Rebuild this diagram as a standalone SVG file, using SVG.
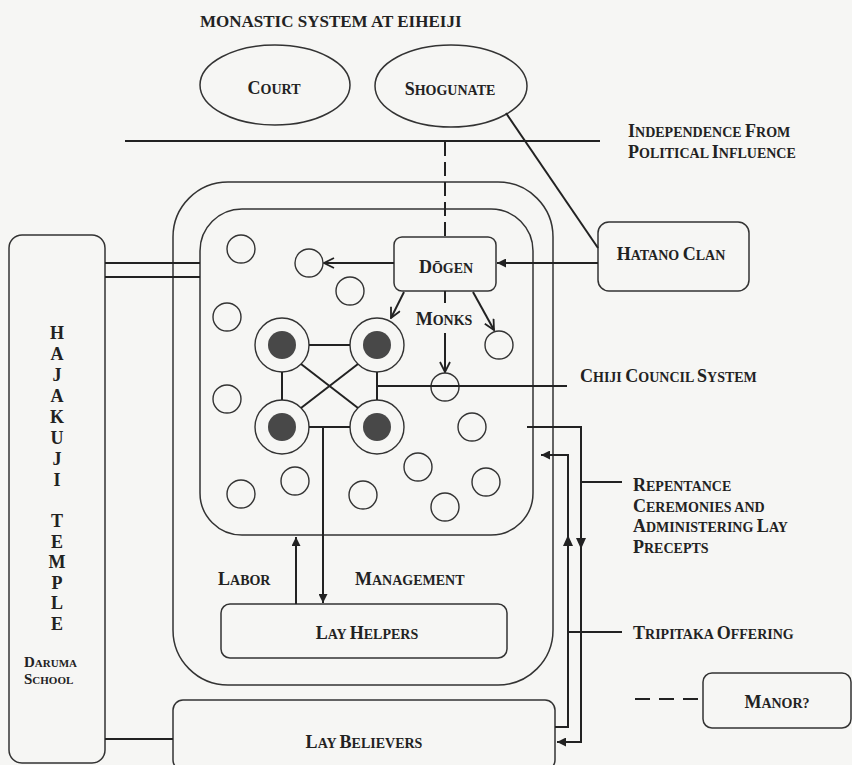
<svg xmlns="http://www.w3.org/2000/svg" width="852" height="765" viewBox="0 0 852 765">
<defs>
<style>
.t{font-family:"Liberation Serif","Times New Roman",serif;font-weight:bold;fill:#222;font-size:14px}
.b{font-size:18px}
.ttl{font-size:17px}
.hj{font-size:18px}
.d1{font-size:15px}
.d2{font-size:11px}
.box{fill:none;stroke:#333;stroke-width:1.5}
.ln{fill:none;stroke:#222;stroke-width:2}
.c{fill:none;stroke:#333;stroke-width:1.4}
.dot{fill:#484848;stroke:none}
</style>
<marker id="open" viewBox="0 0 12 12" refX="11" refY="6" markerWidth="12" markerHeight="12" markerUnits="userSpaceOnUse" orient="auto">
<path d="M1,1 L11,6 L1,11" fill="none" stroke="#222" stroke-width="1.8"/>
</marker>
<marker id="fill" viewBox="0 0 10 10" refX="10" refY="5" markerWidth="11" markerHeight="9" markerUnits="userSpaceOnUse" orient="auto">
<path d="M0,0 L10,5 L0,10 z" fill="#222"/>
</marker>
</defs>
<rect x="0" y="0" width="852" height="765" fill="#f6f6f4"/>

<text class="t ttl" x="200" y="27">MONASTIC SYSTEM AT EIHEIJI</text>

<g id="court">
<ellipse class="box" cx="275" cy="85" rx="75" ry="40"/>
<text class="t" x="274" y="94" text-anchor="middle"><tspan class="b">C</tspan>OURT</text>
</g>
<g id="shogunate">
<ellipse class="box" cx="451" cy="86" rx="76" ry="41"/>
<text class="t" x="450" y="95" text-anchor="middle"><tspan class="b">S</tspan>HOGUNATE</text>
</g>
<g id="independence">
<text class="t" x="628" y="137"><tspan class="b">I</tspan>NDEPENDENCE <tspan class="b">F</tspan>ROM</text>
<text class="t" x="628" y="158"><tspan class="b">P</tspan>OLITICAL <tspan class="b">I</tspan>NFLUENCE</text>
</g>
<g id="hatano">
<rect class="box" x="598" y="222" width="151" height="69" rx="11"/>
<text class="t" x="671" y="260" text-anchor="middle"><tspan class="b">H</tspan>ATANO <tspan class="b">C</tspan>LAN</text>
</g>
<g id="hajakuji">
<rect class="box" x="9" y="235" width="96" height="528" rx="13"/>
<text class="t hj" text-anchor="middle">
<tspan x="57" y="339">H</tspan><tspan x="57" y="360">A</tspan><tspan x="57" y="381">J</tspan><tspan x="57" y="402">A</tspan><tspan x="57" y="423">K</tspan><tspan x="57" y="444">U</tspan><tspan x="57" y="465">J</tspan><tspan x="57" y="486">I</tspan><tspan x="57" y="527">T</tspan><tspan x="57" y="548">E</tspan><tspan x="57" y="568">M</tspan><tspan x="57" y="589">P</tspan><tspan x="57" y="609">L</tspan><tspan x="57" y="630">E</tspan>
</text>
<text class="t d2" x="24" y="667"><tspan class="d1">D</tspan>ARUMA</text>
<text class="t d2" x="24" y="684"><tspan class="d1">S</tspan>CHOOL</text>
</g>
<g id="eiheiji-outer">
<rect class="box" x="173" y="182" width="380" height="503" rx="55"/>
</g>
<g id="eiheiji-inner">
<rect class="box" x="200" y="209" width="333" height="326" rx="42"/>
</g>
<g id="dogen">
<rect class="box" x="394" y="237" width="102" height="54" rx="8"/>
<text class="t" x="446" y="273" text-anchor="middle"><tspan class="b">D</tspan>ŌGEN</text>
</g>
<g id="monks-label">
<text class="t" x="444" y="325" text-anchor="middle"><tspan class="b">M</tspan>ONKS</text>
</g>
<g id="monks">
<circle class="c" cx="241" cy="249" r="14"/>
<circle class="c" cx="309" cy="263" r="14"/>
<circle class="c" cx="350" cy="291" r="14"/>
<circle class="c" cx="227" cy="317" r="14"/>
<circle class="c" cx="499" cy="345" r="14"/>
<circle class="c" cx="445" cy="387" r="14"/>
<circle class="c" cx="227" cy="399" r="14"/>
<circle class="c" cx="472" cy="427" r="14"/>
<circle class="c" cx="418" cy="467" r="14"/>
<circle class="c" cx="486" cy="482" r="14"/>
<circle class="c" cx="241" cy="494" r="14"/>
<circle class="c" cx="295" cy="481" r="14"/>
<circle class="c" cx="363" cy="495" r="14"/>
<circle class="c" cx="445" cy="507" r="14"/>
</g>
<g id="chiji-nodes">
<circle class="c" cx="282" cy="345" r="27"/><circle class="dot" cx="282" cy="345" r="14"/>
<circle class="c" cx="377" cy="345" r="27"/><circle class="dot" cx="377" cy="345" r="14"/>
<circle class="c" cx="282" cy="427" r="27"/><circle class="dot" cx="282" cy="427" r="14"/>
<circle class="c" cx="377" cy="427" r="27"/><circle class="dot" cx="377" cy="427" r="14"/>
</g>
<g id="chiji-label">
<text class="t" x="580" y="382"><tspan class="b">C</tspan>HIJI <tspan class="b">C</tspan>OUNCIL <tspan class="b">S</tspan>YSTEM</text>
</g>
<g id="labels">
<text class="t" x="218" y="585"><tspan class="b">L</tspan>ABOR</text>
<text class="t" x="355" y="585"><tspan class="b">M</tspan>ANAGEMENT</text>
<text class="t" x="633" y="491"><tspan class="b">R</tspan>EPENTANCE</text>
<text class="t" x="633" y="512"><tspan class="b">C</tspan>EREMONIES AND</text>
<text class="t" x="633" y="532"><tspan class="b">A</tspan>DMINISTERING <tspan class="b">L</tspan>AY</text>
<text class="t" x="633" y="553"><tspan class="b">P</tspan>RECEPTS</text>
<text class="t" x="633" y="639"><tspan class="b">T</tspan>RIPITAKA <tspan class="b">O</tspan>FFERING</text>
</g>
<g id="lay-helpers">
<rect class="box" x="221" y="604" width="286" height="54" rx="9"/>
<text class="t" x="367" y="639" text-anchor="middle"><tspan class="b">L</tspan>AY <tspan class="b">H</tspan>ELPERS</text>
</g>
<g id="lay-believers">
<rect class="box" x="173" y="700" width="382" height="70" rx="10"/>
<text class="t" x="364" y="748" text-anchor="middle"><tspan class="b">L</tspan>AY <tspan class="b">B</tspan>ELIEVERS</text>
</g>
<g id="manor">
<rect class="box" x="703" y="673" width="148" height="55" rx="9"/>
<text class="t" x="777" y="708" text-anchor="middle"><tspan class="b">M</tspan>ANOR?</text>
</g>

<g id="connectors">
<line class="ln" x1="125" y1="141" x2="600" y2="141"/>
<line class="ln" x1="506" y1="113" x2="598" y2="248"/>
<line class="ln" x1="445" y1="142" x2="445" y2="237" stroke-dasharray="14,6"/>
<line class="ln" x1="598" y1="263" x2="497" y2="263" marker-end="url(#fill)"/>
<line class="ln" x1="394" y1="263" x2="324" y2="263" marker-end="url(#open)"/>
<line class="ln" x1="404" y1="292" x2="391" y2="318" marker-end="url(#open)"/>
<line class="ln" x1="473" y1="292" x2="494" y2="330" marker-end="url(#open)"/>
<line class="ln" x1="445" y1="291" x2="445" y2="303"/>
<line class="ln" x1="445" y1="333" x2="445" y2="372" marker-end="url(#open)"/>
<line class="ln" x1="309" y1="345" x2="350" y2="345"/>
<line class="ln" x1="309" y1="427" x2="350" y2="427"/>
<line class="ln" x1="282" y1="372" x2="282" y2="400"/>
<line class="ln" x1="377" y1="372" x2="377" y2="400"/>
<line class="ln" x1="301" y1="364" x2="358" y2="408"/>
<line class="ln" x1="358" y1="364" x2="301" y2="408"/>
<line class="ln" x1="377" y1="386" x2="567" y2="386"/>
<line class="ln" x1="323" y1="427" x2="323" y2="603" marker-end="url(#fill)"/>
<line class="ln" x1="296" y1="604" x2="296" y2="537" marker-end="url(#fill)"/>
<line class="ln" x1="105" y1="263" x2="200" y2="263"/>
<line class="ln" x1="105" y1="277" x2="200" y2="277"/>
<line class="ln" x1="105" y1="739" x2="173" y2="739"/>
<path class="ln" d="M527,427 H581 V742 H557" marker-end="url(#fill)"/>
<polygon points="576,538 586,538 581,549" fill="#222"/>
<path class="ln" d="M555,727 H568 V455 H541" marker-end="url(#fill)"/>
<polygon points="563,546 573,546 568,535" fill="#222"/>
<line class="ln" x1="581" y1="482" x2="622" y2="482"/>
<line class="ln" x1="568" y1="632" x2="622" y2="632"/>
<line class="ln" x1="635" y1="699" x2="703" y2="699" stroke-dasharray="15,9"/>
</g>
</svg>
